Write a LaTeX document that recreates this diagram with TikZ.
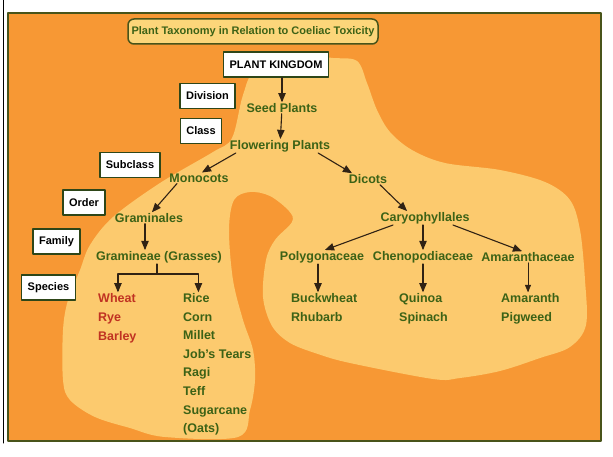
\documentclass[tikz,border=0pt]{standalone}
\usepackage{fontspec}
\setmainfont{Liberation Sans}
\usetikzlibrary{arrows,calc}
\definecolor{panelorange}{RGB}{247,152,52}
\definecolor{paleyellow}{RGB}{252,202,110}
\definecolor{taxgreen}{RGB}{60,98,22}
\definecolor{glutenred}{RGB}{192,50,34}
\definecolor{boxgreen}{RGB}{46,70,24}
\definecolor{titlefill}{RGB}{252,214,122}
\definecolor{titleedge}{RGB}{72,84,26}
\definecolor{arrowbrown}{RGB}{48,34,20}

\begin{document}
\begin{tikzpicture}[line cap=round,line join=round,>=triangle 45,x=1pt,y=-1pt,
  rankbox/.style={draw=boxgreen,line width=1.4pt,fill=white,minimum height=25pt,inner xsep=6pt,font=\fontsize{11}{13}\selectfont\bfseries},
  taxon/.style={text=taxgreen,font=\fontsize{12.5}{14}\selectfont\bfseries,inner sep=1pt},
  link/.style={->,color=arrowbrown,line width=1.1pt}]
\useasboundingbox (0,0) rectangle (613,457);
\draw [color=black,line width=1pt] (3,0) -- (3,443);
\draw [fill=panelorange,draw=titleedge,line width=1.2pt] (8,13) rectangle (601,441);
% pale area behind the tree
\fill [paleyellow] plot[smooth cycle,tension=0.55] coordinates {(300,56) (333,58) (357,61) (367,83) (377,110) (390,132) (412,150) (445,163) (500,170) (545,182) (570,200) (580,230) (585,280) (586,325) (570,347) (540,358) (500,371) (460,378) (433,379) (350,363) (318,354) (290,343) (272,326) (263,297) (266,260) (275,240) (292,222) (289,211) (270,196) (250,192) (234,200) (229,230) (233,280) (243,320) (253,350) (255,380) (250,410) (238,437) (165,437) (130,428) (95,417) (70,400) (63,380) (63,330) (68,300) (80,270) (90,245) (113,217) (160,183) (213,152) (232,138) (243,95) (256,70)};

\node [draw=titleedge,fill=titlefill,line width=1.5pt,rounded corners=6pt,minimum width=250pt,minimum height=25pt,text=taxgreen,font=\fontsize{11}{13}\selectfont\bfseries] (title) at (253,31.5) {Plant Taxonomy in Relation to Coeliac Toxicity};

% rank boxes
\node [rankbox] (kingdom) at (276,64.5) {PLANT KINGDOM};
\foreach \name/\txt/\x/\y in {division/Division/207.5/96, class/Class/201/131, subclass/Subclass/130/165, order/Order/84/202.5, family/Family/56.5/241.5, species/Species/48.5/287.5}
  \node [rankbox] (\name) at (\x,\y) {\txt};

% taxa
\node [taxon] (seed) at (282,108) {Seed Plants};
\node [taxon] (flowering) at (280,146) {Flowering Plants};
\node [taxon] (monocots) at (199,178) {Monocots};
\node [taxon] (dicots) at (368,179) {Dicots};
\node [taxon] (graminales) at (149,218) {Graminales};
\node [taxon] (grasses) at (159,257) {Gramineae (Grasses)};
\node [taxon] (caryo) at (425,218) {Caryophyllales};
\node [taxon] (poly) at (322,257) {Polygonaceae};
\node [taxon] (cheno) at (423,257) {Chenopodiaceae};
\node [taxon] (amaran) at (528,257) {Amaranthaceae};

% species
\foreach \crop [count=\i from 0] in {Wheat,Rye,Barley}
  \node [taxon,text=glutenred,anchor=base west] (wheat\i) at (97,302.5+18.8*\i) {\crop};
\foreach \crop [count=\i from 0] in {Rice,Corn,Millet,Job's Tears,Ragi,Teff,Sugarcane,(Oats)}
  \node [taxon,anchor=base west] (rice\i) at (182,302.5+18.6*\i) {\crop};
\foreach \crop [count=\i from 0] in {Buckwheat,Rhubarb}
  \node [taxon,anchor=base west] (buck\i) at (290,302.5+19*\i) {\crop};
\foreach \crop [count=\i from 0] in {Quinoa,Spinach}
  \node [taxon,anchor=base west] (quinoa\i) at (398,302.5+19*\i) {\crop};
\foreach \crop [count=\i from 0] in {Amaranth,Pigweed}
  \node [taxon,anchor=base west] (amaranth\i) at (500,302.5+19*\i) {\crop};

% arrows
\draw [link] (kingdom.south -| seed.north) -- (seed.north);
\draw [link] (seed) -- (flowering);
\draw [link] ([xshift=7pt]flowering.south west) -- ([xshift=3pt]monocots.north);
\draw [link] ([xshift=-13pt]flowering.south east) -- ([xshift=-16pt]dicots.north);
\draw [link] ([xshift=-22pt]monocots.south) -- ([xshift=3pt]graminales.north);
\draw [link] ([xshift=-4pt]graminales.south) -- ([xshift=-4pt]graminales.south |- grasses.north);
\coordinate (fork) at ($(grasses.south)+(-2,10)$);
\draw [color=arrowbrown,line width=1.1pt] (grasses.south -| fork) -- (fork);
\draw [link] (fork) -| ([xshift=1pt]wheat0.north);
\draw [link] (fork) -| ([xshift=2pt]rice0.north);
\draw [link] ([xshift=12pt]dicots.south) -- ([xshift=-18pt]caryo.north);
\draw [link] ([xshift=-32pt]caryo.south) -- ([xshift=3pt]poly.north);
\draw [link] (caryo.south -| cheno.north) -- (cheno.north);
\draw [link] ([xshift=28pt]caryo.south) -- ([xshift=-6pt]amaran.north);
\draw [link] ([xshift=-4pt]poly.south) -- ([xshift=-4pt]poly.south |- buck0.north);
\draw [link] (cheno.south) -- (cheno.south |- quinoa0.north);
\draw [link,line width=0.7pt] (amaran.south) -- (amaran.south |- amaranth0.north);
\end{tikzpicture}
\end{document}
